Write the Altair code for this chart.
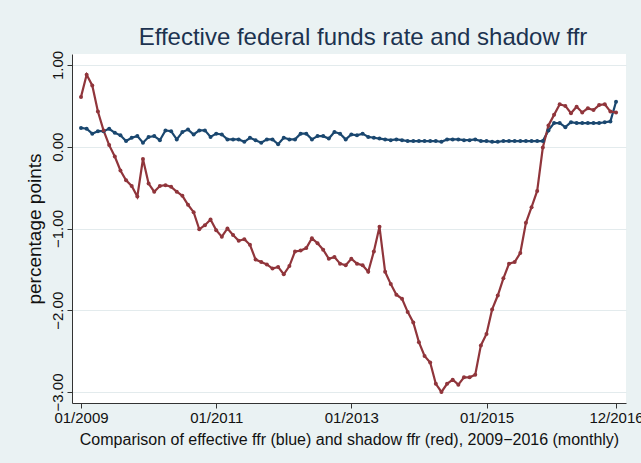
import altair as alt
import pandas as pd

# month index 0 = 01/2009 ... 95 = 12/2016
months = list(range(96))

effr = [0.23, 0.22, 0.16, 0.19, 0.19, 0.22, 0.17, 0.14, 0.07, 0.11,
        0.13, 0.05, 0.12, 0.13, 0.08, 0.20, 0.19, 0.09, 0.18, 0.21,
        0.15, 0.20, 0.20, 0.12, 0.16, 0.15, 0.09, 0.09, 0.09, 0.06,
        0.11, 0.08, 0.05, 0.09, 0.09, 0.03, 0.11, 0.09, 0.09, 0.16,
        0.16, 0.09, 0.13, 0.13, 0.10, 0.18, 0.16, 0.09, 0.15, 0.14,
        0.16, 0.12, 0.11, 0.10, 0.09, 0.08, 0.09, 0.08, 0.07, 0.07,
        0.07, 0.07, 0.07, 0.07, 0.06, 0.09, 0.09, 0.09, 0.08, 0.08,
        0.09, 0.07, 0.07, 0.06, 0.06, 0.07, 0.07, 0.07, 0.07, 0.07,
        0.07, 0.07, 0.07, 0.20, 0.29, 0.29, 0.24, 0.30, 0.29, 0.29,
        0.29, 0.29, 0.29, 0.30, 0.31, 0.55]

shadow = [0.61, 0.88, 0.75, 0.43, 0.20, 0.02, -0.12, -0.29, -0.41, -0.48,
          -0.61, -0.15, -0.45, -0.55, -0.48, -0.47, -0.49, -0.55, -0.60, -0.71,
          -0.80, -1.01, -0.96, -0.89, -1.02, -1.10, -1.00, -1.08, -1.15, -1.13,
          -1.20, -1.38, -1.41, -1.44, -1.49, -1.47, -1.56, -1.46, -1.28, -1.27,
          -1.24, -1.12, -1.18, -1.26, -1.37, -1.35, -1.43, -1.45, -1.37, -1.43,
          -1.45, -1.53, -1.28, -0.98, -1.53, -1.68, -1.81, -1.86, -2.02, -2.15,
          -2.39, -2.56, -2.64, -2.90, -3.00, -2.90, -2.85, -2.91, -2.82, -2.82,
          -2.79, -2.43, -2.29, -1.99, -1.82, -1.61, -1.43, -1.41, -1.30, -0.93,
          -0.74, -0.54, -0.01, 0.26, 0.39, 0.52, 0.50, 0.41, 0.49, 0.42,
          0.47, 0.45, 0.51, 0.52, 0.43, 0.42]

series_names = ["effective ffr", "shadow ffr"]
series_colors = ["#1A476F", "#90353B"]

x_tick_values = [0, 24, 48, 72, 95]
x_tick_labels = ["01/2009", "01/2011", "01/2013", "01/2015", "12/2016"]
y_tick_values = [-3, -2, -1, 0, 1]

df = pd.DataFrame({
    "month": months + months,
    "value": effr + shadow,
    "series": [series_names[0]] * len(effr) + [series_names[1]] * len(shadow),
})

label_expr = "''"
for v, lab in zip(reversed(x_tick_values), reversed(x_tick_labels)):
    label_expr = f"datum.value == {v} ? '{lab}' : ({label_expr})"

FONT = "Liberation Sans"

x_enc = alt.X(
    "month:Q",
    scale=alt.Scale(domain=[-1.6, 96.77], nice=False, zero=False),
    axis=alt.Axis(
        values=x_tick_values, labelExpr=label_expr, grid=False,
        title="Comparison of effective ffr (blue) and shadow ffr (red), 2009\u22122016 (monthly)",
        titleFontSize=16, titleFont=FONT, titleFontWeight="normal", titleColor="#111111",
        titlePadding=6,
        labelFontSize=15, labelFont=FONT, labelColor="#111111", labelPadding=2,
        labelOverlap=False, labelFlush=False,
        tickSize=5, tickColor="#333333", domainColor="#333333", domainWidth=1,
    ),
)
y_enc = alt.Y(
    "value:Q",
    scale=alt.Scale(domain=[-3.1346, 1.1346], nice=False, zero=False),
    axis=alt.Axis(
        values=y_tick_values, format=".2f", grid=True, gridColor="#E3EBED", gridWidth=1,
        title="percentage points", titleFontSize=19, titleFont=FONT,
        titleFontWeight="normal", titleColor="#111111", titlePadding=6,
        labelAngle=270, labelAlign="center", labelBaseline="alphabetic",
        labelFontSize=15, labelFont=FONT, labelColor="#111111", labelPadding=5,
        tickSize=5, tickColor="#333333", domainColor="#333333", domainWidth=1,
    ),
)
color_enc = alt.Color(
    "series:N",
    scale=alt.Scale(domain=series_names, range=series_colors),
    legend=None,
)

base = alt.Chart(df).encode(x=x_enc, y=y_enc, color=color_enc, detail="series:N")
lines = base.mark_line(strokeWidth=2.2)
points = base.mark_point(filled=True, size=16, opacity=1)

chart = (
    alt.layer(lines, points)
    .properties(
        width=554,
        height=349,
        autosize=alt.AutoSizeParams(type="none"),
        padding={"left": 72, "top": 54, "right": 15, "bottom": 60},
        background="#EAF2F3",
        title=alt.TitleParams(
            text="Effective federal funds rate and shadow ffr",
            fontSize=24, font=FONT, fontWeight="normal", color="#1C3350",
            anchor="middle", dx=14, dy=6, offset=6,
        ),
    )
    .configure_view(stroke=None, fill="white")
)

chart.save("out.html", embed_options={"renderer": "svg", "actions": False})
